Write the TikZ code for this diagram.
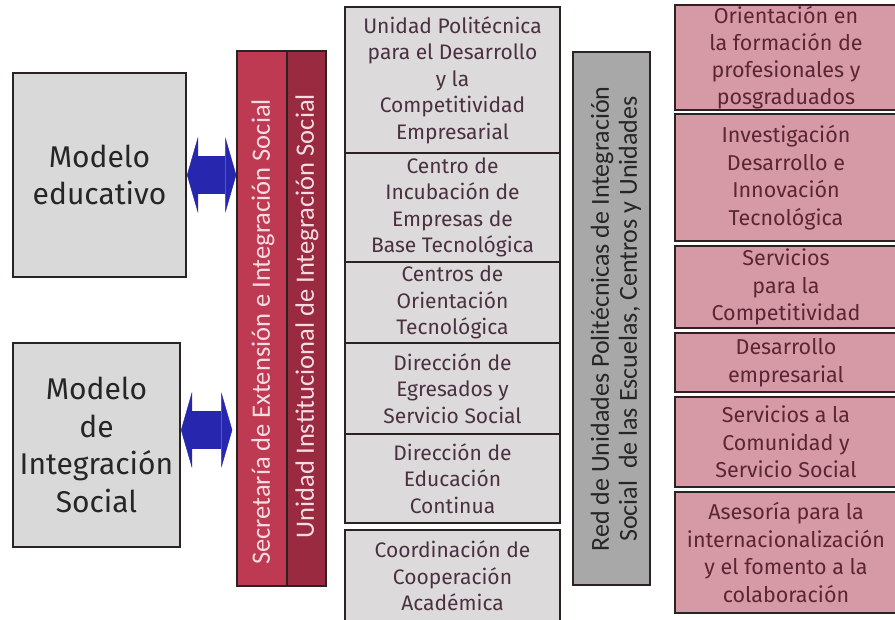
\documentclass[tikz,border=0pt]{standalone}
\usepackage{fontspec}
\setmainfont{Fira Sans}
\newfontfamily\barfont{Carlito}
\usepackage{xcolor}
\usetikzlibrary{positioning, calc, arrows.meta}

\definecolor{boxgray}{HTML}{D9D9D9}
\definecolor{midgray}{HTML}{DCDADA}
\definecolor{bargray}{HTML}{A8A8A8}
\definecolor{redA}{HTML}{BE3A52}
\definecolor{redB}{HTML}{9A2A40}
\definecolor{pinkbox}{HTML}{D69AA6}
\definecolor{edge}{HTML}{2B2222}
\definecolor{midtext}{HTML}{4A3040}
\definecolor{pinktext}{HTML}{5A2632}
\definecolor{arrowblue}{HTML}{2626AE}
\definecolor{bartext}{HTML}{F6DCE2}

\begin{document}
\begin{tikzpicture}[
x=1pt, y=-1pt,
    model/.style={rectangle, draw=edge, line width=2pt, fill=boxgray, align=center, inner sep=0pt, text=black!85, font=\fontsize{30}{37.5}\selectfont},
    redbar/.style={rectangle, draw=edge, line width=1.5pt, inner sep=0pt, minimum height=535pt},
    bartxt/.style={rotate=90, inner sep=0pt, align=center, font=\barfont\fontsize{26.5}{28}\selectfont},
    unit/.style={rectangle, draw=edge, line width=2pt, fill=midgray, minimum width=215pt, align=center, inner sep=0pt, text=midtext, font=\fontsize{21}{26.5}\selectfont},
    func/.style={rectangle, draw=edge, line width=2pt, fill=pinkbox, minimum width=222pt, align=center, inner sep=0pt, text=pinktext, font=\fontsize{21.5}{27.5}\selectfont},
    link/.style={draw=arrowblue, line width=38pt, {Triangle[length=11pt, width=76pt, line width=0.4pt]}-{Triangle[length=11pt, width=76pt, line width=0.4pt]}}
]
    \fill[white] (0,0) rectangle (895,619);
    \useasboundingbox (0,0) rectangle (895,619);

    % ================= MODELS =================
    \node[model, minimum width=173pt, minimum height=204pt] (edu) at (99.5,175) {Modelo\\educativo};
    \node[model, minimum width=167pt, minimum height=204pt] (soc) at (96.5,445) {Modelo\\de\\Integración\\Social};

    % ================= SECRETARIAT =================
    \node[redbar, fill=redA, minimum width=50pt] (sec) at (262,318.5) {};
    \node[redbar, fill=redB, minimum width=39pt] (uni) at (306.5,318.5) {};
    \node[bartxt, text=bartext] (secTxt) at (263,332) {Secretaría de Extensión e Integración Social};
    \node[bartxt, text=bartext] (uniTxt) at (307,316) {Unidad Institucional de Integración Social};

    % ================= ARROWS =================
    \draw[link] (edu.east) -- (edu.east -| sec.west);
    \coordinate (socR) at ([yshift=15pt]soc.east);
    \draw[link] (socR) -- ([xshift=-4pt]socR -| sec.west);

    % ================= UNITS =================
    \node[unit, minimum height=146pt] (updce) at (452.5,80) {Unidad Politécnica\\para el Desarrollo\\y la\\Competitividad\\Empresarial};
    \node[unit, minimum height=109pt] (cie) at (452.5,207.5) {Centro de\\Incubación de\\Empresas de\\Base Tecnológica};
    \node[unit, minimum height=81pt] (cot) at (452.5,302.5) {Centros de\\Orientación\\Tecnológica};
    \node[unit, minimum height=91pt] (dess) at (452.5,388.5) {Dirección de\\Egresados y\\Servicio Social};
    \node[unit, minimum height=89pt] (dec) at (452.5,478.5) {Dirección de\\Educación\\Continua};
    \node[unit, minimum height=92pt] (cca) at (452.5,576) {Coordinación de\\Cooperación\\Académica};

    % ================= NETWORK =================
    \node[rectangle, draw=edge, line width=2pt, fill=bargray, minimum width=77pt, minimum height=533pt] (red) at (611.5,318.5) {};
    \node[bartxt, text=black!85, font=\barfont\fontsize{26}{28}\selectfont] (redTxt) at (616,319) {Red de Unidades Politécnicas de Integración\\Social\ \ de las Escuelas, Centros y Unidades};

    % ================= FUNCTIONS =================
    \node[func, minimum height=105pt, font=\fontsize{21.5}{27}\selectfont] (opp) at (786,57.5) {Orientación en\\la formación de\\profesionales y\\posgraduados};
    \node[func, minimum height=127pt] (idi) at (786,177.5) {Investigación\\Desarrollo e\\Innovación\\Tecnológica};
    \node[func, minimum height=82pt] (spc) at (786,287) {Servicios\\para la\\Competitividad};
    \node[func, minimum height=59pt] (emp) at (786,362.5) {Desarrollo\\empresarial};
    \node[func, minimum height=90pt] (scs) at (786,442) {Servicios a la\\Comunidad y\\Servicio Social};
    \node[func, minimum height=121pt] (aif) at (786,552.5) {Asesoría para la\\internacionalización\\y el fomento a la\\colaboración};

\end{tikzpicture}
\end{document}
